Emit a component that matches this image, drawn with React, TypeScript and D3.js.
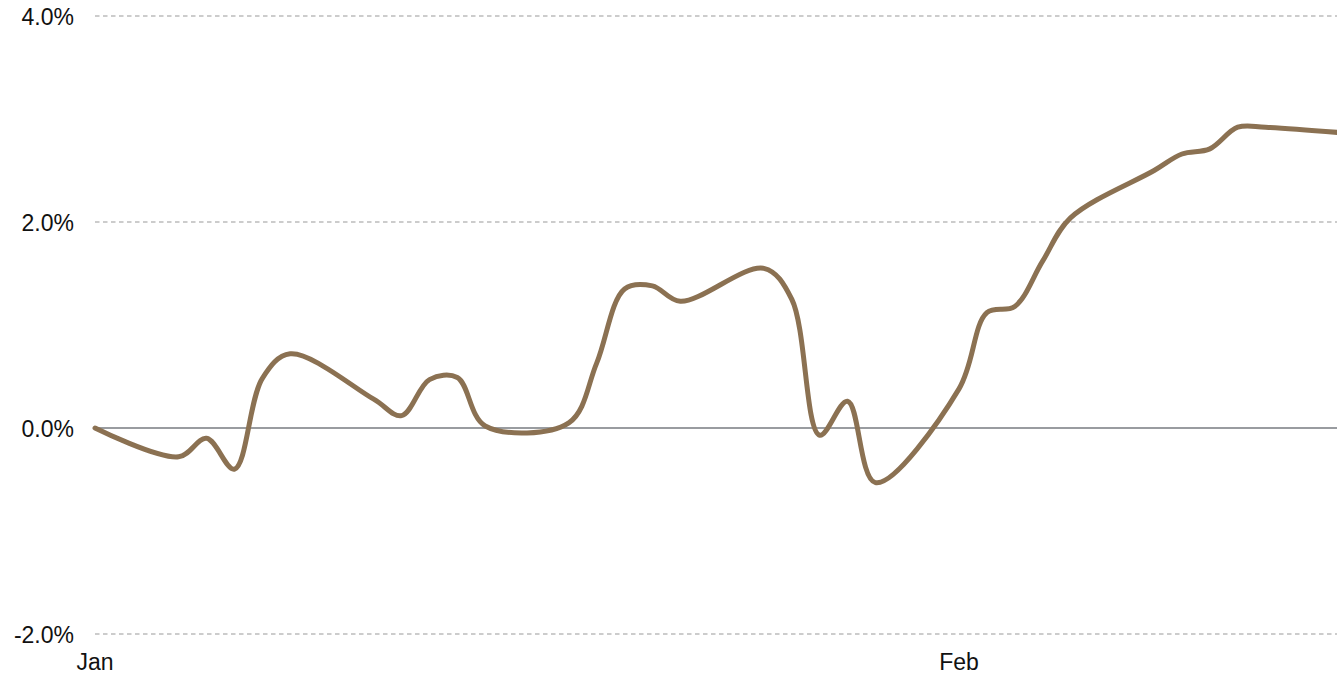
import React from "react";
import * as d3 from "d3";

const dates: string[] = [
  "2021-01-01", "2021-01-04", "2021-01-05", "2021-01-06", "2021-01-07", "2021-01-08",
  "2021-01-11", "2021-01-12", "2021-01-13", "2021-01-14", "2021-01-15",
  "2021-01-18", "2021-01-19", "2021-01-20", "2021-01-21", "2021-01-22",
  "2021-01-25", "2021-01-26", "2021-01-27", "2021-01-28", "2021-01-29",
  "2021-02-01", "2021-02-02", "2021-02-03", "2021-02-04", "2021-02-05",
  "2021-02-08", "2021-02-09", "2021-02-10", "2021-02-11", "2021-02-12",
  "2021-02-15",
];
const values: number[] = [
  0.0, -0.28, -0.1, -0.4, 0.48, 0.72,
  0.28, 0.12, 0.47, 0.49, 0.02,
  0.05, 0.63, 1.35, 1.38, 1.23,
  1.55, 1.25, -0.07, 0.26, -0.53,
  0.38, 1.12, 1.18, 1.62, 2.04,
  2.5, 2.66, 2.71, 2.92, 2.92,
  2.86,
];
const yTicks: number[] = [-2, 0, 2, 4];
const xTickLabels: string[] = ["Jan", "Feb"];

const W = 1337;
const H = 674;

export default function App() {
  const parse = d3.utcParse("%Y-%m-%d");
  const data = dates.map((d, i) => ({ date: parse(d) as Date, value: values[i] }));
  const x = d3
    .scaleUtc()
    .domain([new Date(Date.UTC(2021, 0, 1)), new Date(Date.UTC(2021, 1, 1))])
    .range([95, 959]);
  const y = d3.scaleLinear().domain([-2, 4]).range([634, 16]);
  const line = d3
    .line<{ date: Date; value: number }>()
    .x((d) => x(d.date))
    .y((d) => y(d.value))
    .curve(d3.curveCatmullRom.alpha(0.5));
  const monthTicks = d3.utcMonth.range(new Date(Date.UTC(2021, 0, 1)), new Date(Date.UTC(2021, 1, 2)));
  const font = "'Liberation Sans', Arial, sans-serif";
  const fmt = (t: number) => t.toFixed(1) + "%";
  return (
    <svg
      width={W}
      height={H}
      style={{ position: "absolute", left: 0, top: 0, display: "block", background: "#fff" }}
    >
      <defs>
        <clipPath id="plot">
          <rect x={0} y={0} width={W} height={H} />
        </clipPath>
      </defs>
      {yTicks.map((t) => (
        <g key={t}>
          <line
            x1={95}
            x2={W}
            y1={y(t)}
            y2={y(t)}
            stroke={t === 0 ? "#999ca0" : "#999"}
            strokeWidth={t === 0 ? 2 : 1.2}
            strokeDasharray={t === 0 ? undefined : "4.5,3.5"}
          />
          <text
            x={74}
            y={y(t) + 8.5}
            textAnchor="end"
            fontFamily={font}
            fontSize={23}
            fill="#111"
          >
            {fmt(t)}
          </text>
        </g>
      ))}
      {monthTicks.map((m, i) => (
        <text
          key={i}
          x={x(m)}
          y={670}
          textAnchor="middle"
          fontFamily={font}
          fontSize={23}
          fill="#111"
        >
          {xTickLabels[i]}
        </text>
      ))}
      <path
        d={line(data) || ""}
        fill="none"
        stroke="#8b7152"
        strokeWidth={5}
        strokeLinejoin="round"
        strokeLinecap="round"
        clipPath="url(#plot)"
      />
    </svg>
  );
}
